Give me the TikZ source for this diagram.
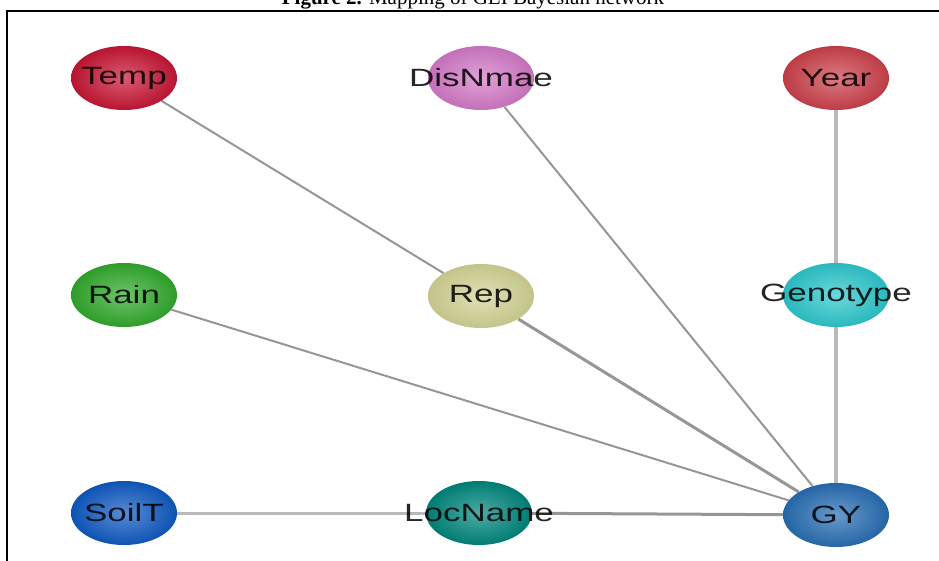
\documentclass[tikz,border=0pt]{standalone}
\usepackage{fontspec}
\setmainfont{Liberation Serif}
\newfontfamily\nodefont[FakeStretch=1.4]{Liberation Sans}
\usetikzlibrary{shapes.geometric,backgrounds}
\definecolor{tempred}{RGB}{200,22,52}
\definecolor{disviolet}{RGB}{212,122,200}
\definecolor{yearred}{RGB}{205,65,75}
\definecolor{raingreen}{RGB}{50,170,45}
\definecolor{repkhaki}{RGB}{212,212,150}
\definecolor{genocyan}{RGB}{45,200,205}
\definecolor{soilblue}{RGB}{15,90,195}
\definecolor{locteal}{RGB}{0,135,125}
\definecolor{gyblue}{RGB}{40,110,180}
\definecolor{linkgray}{RGB}{150,150,150}
\definecolor{pillgray}{RGB}{185,185,185}
\begin{document}
\begin{tikzpicture}[x=1pt, y=-1pt,
  var/.style={ellipse, minimum width=106pt, minimum height=64pt, inner sep=0pt,
    inner color=#1!70!white, outer color=#1!92!black},
  lbl/.style={font=\nodefont\fontsize{25}{25}\selectfont, text=black, text opacity=0.85},
  link/.style={draw=linkgray, line width=2pt},
  thick link/.style={draw=pillgray, line width=4pt}]
\useasboundingbox (0,0) rectangle (939,561);
\draw[line width=2.5pt] (7,580) -- (7,11) -- (960,11);
\node[anchor=base, font=\fontsize{21}{21}\selectfont] (title) at (473,4.5)
  {\textbf{Figure 2.} Mapping of GEI Bayesian network};

% variables
\node[var=tempred, label={[lbl]center:Temp}] (temp) at (124,78) {};
\node[var=disviolet, label={[lbl]center:DisNmae}] (disn) at (481,78) {};
\node[var=yearred, label={[lbl]center:Year}] (year) at (836,78) {};
\node[var=raingreen, label={[lbl]center:Rain}] (rain) at (124,295) {};
\node[var=repkhaki, label={[lbl]center:Rep}] (rep) at (481,296) {};
\node[var=genocyan, label={[lbl]center:Genotype}] (geno) at (836,295) {};
\node[var=soilblue, label={[lbl]center:SoilT}] (soilt) at (124,513) {};
\node[var=locteal, label={[lbl]center:LocName}] (loc) at (479,513) {};
\node[var=gyblue, label={[lbl]center:GY}] (gy) at (836,515) {};

% links
\begin{scope}[on background layer]
\draw[link] (temp) -- (rep);
\draw[link] (disn) -- (gy);
\draw[link] (rain) -- (gy);
\draw[link, line width=3pt] (rep) -- (gy);
\draw[thick link] (year) -- (geno);
\draw[thick link] (geno) -- (gy);
\draw[link, draw=pillgray, line width=3pt] (soilt) -- (loc);
\draw[link, line width=3pt] (loc) -- (gy);
\end{scope}
\end{tikzpicture}
\end{document}
